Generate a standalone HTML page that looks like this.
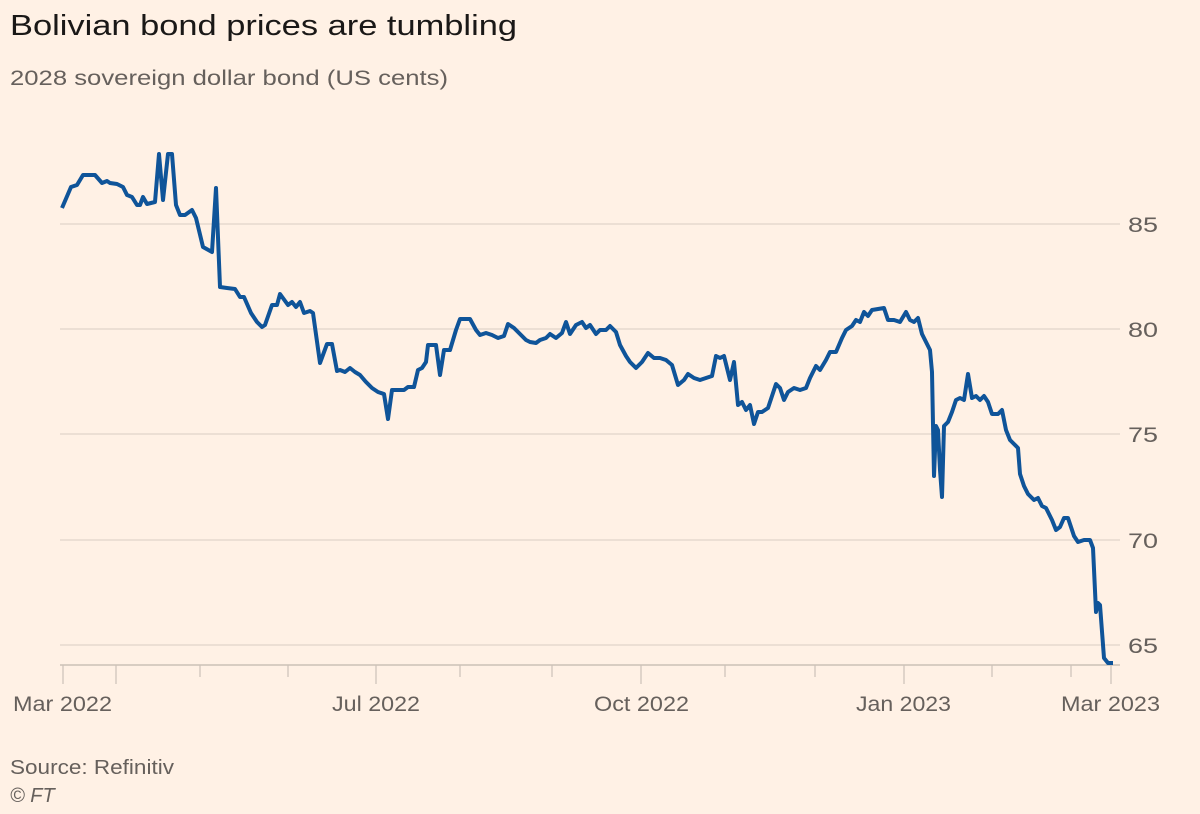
<!DOCTYPE html>
<html><head><meta charset="utf-8"><style>
body{margin:0;background:#FFF1E5;}
svg{display:block;font-family:"Liberation Sans",sans-serif;}
</style></head><body>
<svg width="1200" height="814" viewBox="0 0 1200 814">
<rect width="1200" height="814" fill="#FFF1E5"/>
<text x="10" y="35" font-size="29" fill="#1a1817" textLength="507" lengthAdjust="spacingAndGlyphs">Bolivian bond prices are tumbling</text>
<text x="10" y="85" font-size="21" fill="#66605C" textLength="438" lengthAdjust="spacingAndGlyphs">2028 sovereign dollar bond (US cents)</text>
<g stroke="#E6D9CE" stroke-width="1.5">
<line x1="60" y1="224" x2="1120" y2="224"/>
<line x1="60" y1="329" x2="1120" y2="329"/>
<line x1="60" y1="434" x2="1120" y2="434"/>
<line x1="60" y1="540" x2="1120" y2="540"/>
<line x1="60" y1="645" x2="1120" y2="645"/>
</g>
<line x1="60" y1="665" x2="1120" y2="665" stroke="#CCC1B7" stroke-width="1.5"/>
<g stroke="#CCC1B7" stroke-width="1.2">
<line x1="63" y1="665" x2="63" y2="684"/><line x1="116" y1="665" x2="116" y2="684"/>
<line x1="200" y1="665" x2="200" y2="677"/><line x1="288" y1="665" x2="288" y2="677"/>
<line x1="376" y1="665" x2="376" y2="684"/><line x1="460" y1="665" x2="460" y2="677"/>
<line x1="552" y1="665" x2="552" y2="677"/><line x1="641" y1="665" x2="641" y2="684"/>
<line x1="725" y1="665" x2="725" y2="677"/><line x1="815" y1="665" x2="815" y2="677"/>
<line x1="904" y1="665" x2="904" y2="684"/><line x1="992" y1="665" x2="992" y2="677"/>
<line x1="1071" y1="665" x2="1071" y2="677"/><line x1="1111" y1="665" x2="1111" y2="684"/>
</g>
<g font-size="21" fill="#66605C" lengthAdjust="spacingAndGlyphs">
<text x="1128" y="232" textLength="30" lengthAdjust="spacingAndGlyphs">85</text><text x="1128" y="337" textLength="30" lengthAdjust="spacingAndGlyphs">80</text>
<text x="1128" y="442" textLength="30" lengthAdjust="spacingAndGlyphs">75</text><text x="1128" y="548" textLength="30" lengthAdjust="spacingAndGlyphs">70</text>
<text x="1128" y="653" textLength="30" lengthAdjust="spacingAndGlyphs">65</text>
<text x="13" y="711" textLength="99" lengthAdjust="spacingAndGlyphs">Mar 2022</text>
<text x="332" y="711" textLength="88" lengthAdjust="spacingAndGlyphs">Jul 2022</text>
<text x="594" y="711" textLength="95" lengthAdjust="spacingAndGlyphs">Oct 2022</text>
<text x="856" y="711" textLength="95" lengthAdjust="spacingAndGlyphs">Jan 2023</text>
<text x="1061" y="711" textLength="99" lengthAdjust="spacingAndGlyphs">Mar 2023</text>
</g>
<text x="10" y="774" font-size="20" fill="#66605C" textLength="164" lengthAdjust="spacingAndGlyphs">Source: Refinitiv</text>
<text x="10" y="802" font-size="20" fill="#66605C" font-style="italic">© FT</text>
<polyline fill="none" stroke="#0F5499" stroke-width="4" stroke-linejoin="round" points="
62,208 71,187 77,185 83,175 95,175 102,183 107,181 110,183 117,184 123,187 127,195 132,197 137,205 140,205 143,197 147,204 155,202 159,154 163,200 168,154 172,154 176,205 180,215 185,215 192,210 196,218 203,247 212,252 216,188 220,287 227,288 235,289 240,297 244,297 251,313 257,322 262,327 265,325 272,305 277,305 280,294 288,305 292,302 296,307 300,302 304,313 310,311 313,313 320,363 327,344 332,344 337,371
340,370 345,372 350,368 355,372 360,375 366,382 372,388 378,392 384,394 388,419 392,390 398,390 404,390 408,387 414,387 418,370 422,368 426,362 428,345 432,345 436,345 440,375 444,350 450,350 456,330 460,319 466,319 470,319 476,330 480,335 486,333 492,335 498,338 504,336 508,324 514,328 520,334 526,340 530,342 536,343 540,340 546,338 550,334 556,338 562,333 566,322 570,334 576,325 582,322 586,328 590,325 596,334 600,330 606,330 610,326 616,332 620,345 626,356 630,362 636,368 642,362 648,353 654,358 660,358 666,360 672,365 678,385 684,380 688,374 694,378 700,380 706,378 712,376 716,356 720,358 724,356 730,380 734,362 738,405 742,402 746,410 750,405 754,424 758,412 762,412 768,408 772,396 776,384 780,388 784,400 788,392 794,388 800,390 806,388 810,378 816,366 820,370 826,360 830,352 836,352 842,338 846,330 852,326 856,320 860,322 864,312 868,316 872,310 878,309 884,308 888,320 894,320 900,322 906,312 910,320 914,322 918,318 922,334 926,342 930,350 932,372 934,476 936,426 938,430 940,470 942,497 944,426 948,422 952,412 956,400 960,398 964,400 968,374 972,398 976,396 980,400 984,396 988,402 992,414 998,414 1002,410 1006,430 1010,440 1014,444 1018,448 1020,474 1024,486 1028,494 1034,500 1038,498 1042,506 1046,508 1052,520 1056,530 1060,527 1064,518 1068,518 1074,536 1078,542 1084,540 1090,540 1093,548 1096,612 1098,603 1100,605 1104,658 1108,663 1113,663"/>
</svg>
</body></html>
